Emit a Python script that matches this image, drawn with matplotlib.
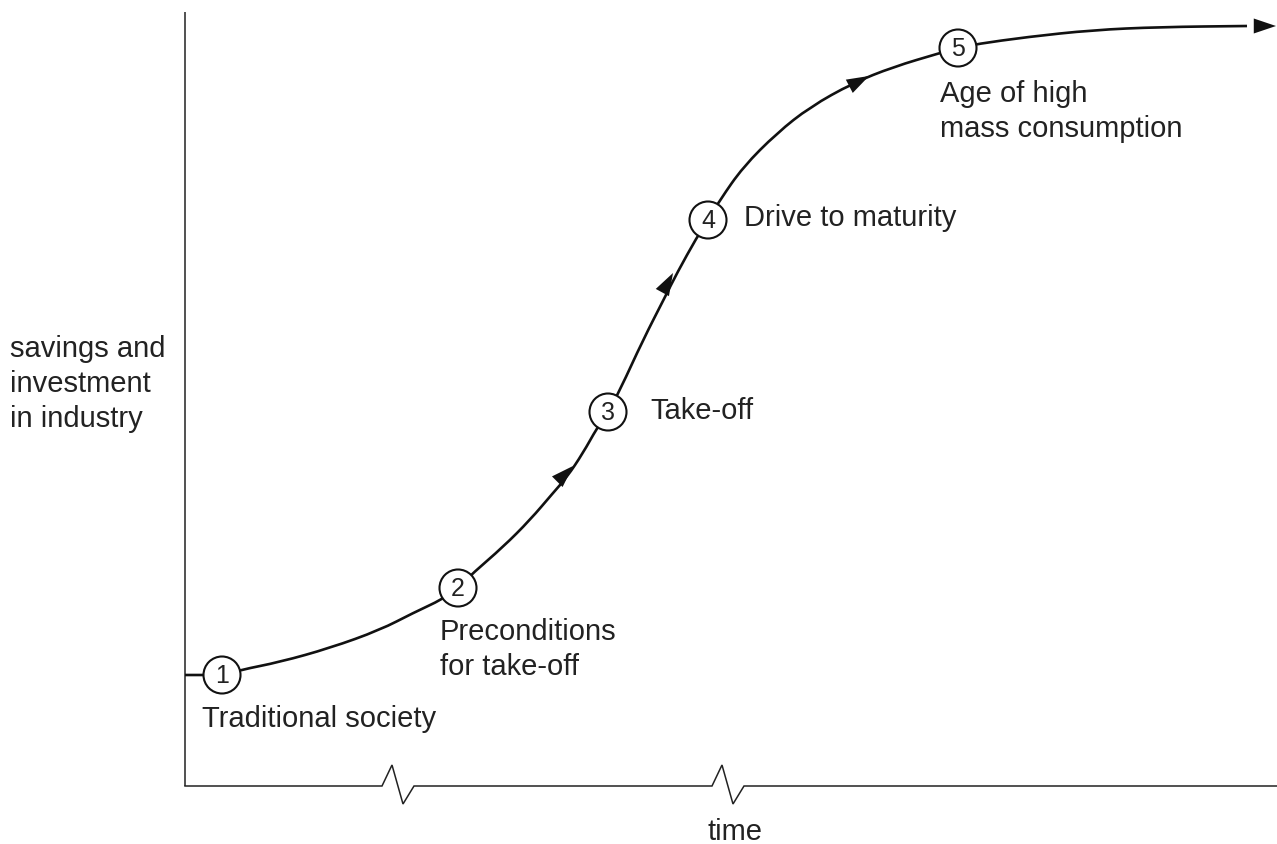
import matplotlib.pyplot as plt
from matplotlib.patches import Circle, PathPatch
from matplotlib.path import Path

plt.rcParams['font.family'] = ['Liberation Sans', 'DejaVu Sans']

# canvas units are pixels of the 1277x844 drawing (y grows downward)
W, H = 1277, 844

# stage circles: centre and label
stage_num = ['1', '2', '3', '4', '5']
stage_x = [222, 458, 608, 708, 958]
stage_y = [675, 588, 412, 220, 48]
stage_label = ['Traditional society', 'Preconditions\nfor take-off', 'Take-off',
               'Drive to maturity', 'Age of high\nmass consumption']
label_x = [202, 440, 650, 744, 940]
label_y = [727, 675, 419, 226, 137]   # baseline of last line

# growth curve
curve_x = [185, 222, 240, 280, 330, 380, 413, 443, 458, 473, 503, 530, 553, 567,
           583, 597, 608, 620, 643, 665, 677, 697, 708, 720, 743, 777, 810, 853,
           893, 940, 958, 977, 1027, 1093, 1160, 1247]
curve_y = [675, 675, 670, 662, 648, 630, 613, 599, 588, 573, 547, 520, 493, 477,
           453, 428, 412, 390, 340, 297, 273, 237, 220, 200, 167, 133, 107, 83,
           67, 53, 48, 44, 37, 30, 27, 26]

# arrow heads (base -> tip)
arrow_base = [(555, 484), (661, 295), (846, 88), (1245, 26)]
arrow_tip = [(573, 466), (673, 273), (869, 76), (1276, 26)]

# axes
y_axis_x, y_axis_top = 185, 12
x_axis_y = 786
break_peaks = [392, 722]

fig = plt.figure(figsize=(W / 100, H / 100), dpi=100)
ax = fig.add_axes([0, 0, 1, 1])
ax.set_xlim(0, W)
ax.set_ylim(H, 0)
ax.axis('off')

# vertical axis
ax.plot([y_axis_x, y_axis_x], [y_axis_top, x_axis_y], color='#222222', lw=1.1,
        solid_capstyle='butt')

# horizontal axis with break marks
ax_x = [y_axis_x]
ax_y = [x_axis_y]
for p in break_peaks:
    ax_x += [p - 10, p, p + 11, p + 22]
    ax_y += [x_axis_y, 765, 804, x_axis_y]
ax_x.append(W)
ax_y.append(x_axis_y)
ax.plot(ax_x, ax_y, color='#222222', lw=1.1, solid_joinstyle='miter')

# curve: smooth quadratic path using the read points as control points
pts = list(zip(curve_x, curve_y))
verts = [pts[0], pts[1]]
codes = [Path.MOVETO, Path.LINETO]
for i in range(2, len(pts) - 1):
    mid = ((pts[i][0] + pts[i + 1][0]) / 2, (pts[i][1] + pts[i + 1][1]) / 2)
    verts += [pts[i], mid]
    codes += [Path.CURVE3, Path.CURVE3]
verts.append(pts[-1])
codes.append(Path.LINETO)
ax.add_patch(PathPatch(Path(verts, codes), facecolor='none', edgecolor='#111111',
                       lw=1.9, zorder=2))

for (bx, by), (tx, ty) in zip(arrow_base, arrow_tip):
    ax.annotate('', xy=(tx, ty), xytext=(bx, by),
                arrowprops=dict(arrowstyle='-|>,head_length=0.8,head_width=0.27',
                                color='#111111', lw=0, mutation_scale=20,
                                shrinkA=0, shrinkB=0), zorder=3)

# stage circles and labels
for n, cx, cy, lab, lx, ly in zip(stage_num, stage_x, stage_y, stage_label, label_x, label_y):
    ax.add_patch(Circle((cx, cy), 18.5, facecolor='white', edgecolor='#111111',
                        lw=1.5, zorder=4))
    ax.text(cx, cy + 1, n, ha='center', va='center', fontsize=18, color='#222222', zorder=5)
    ax.text(lx, ly, lab, ha='left', va='baseline', fontsize=21, color='#222222',
            linespacing=1.32)

ax.text(10, 427, 'savings and\ninvestment\nin industry', ha='left', va='baseline',
        fontsize=21, color='#222222', linespacing=1.32)
ax.text(735, 840, 'time', ha='center', va='baseline', fontsize=21, color='#222222')

plt.savefig('out.png', dpi=100)
